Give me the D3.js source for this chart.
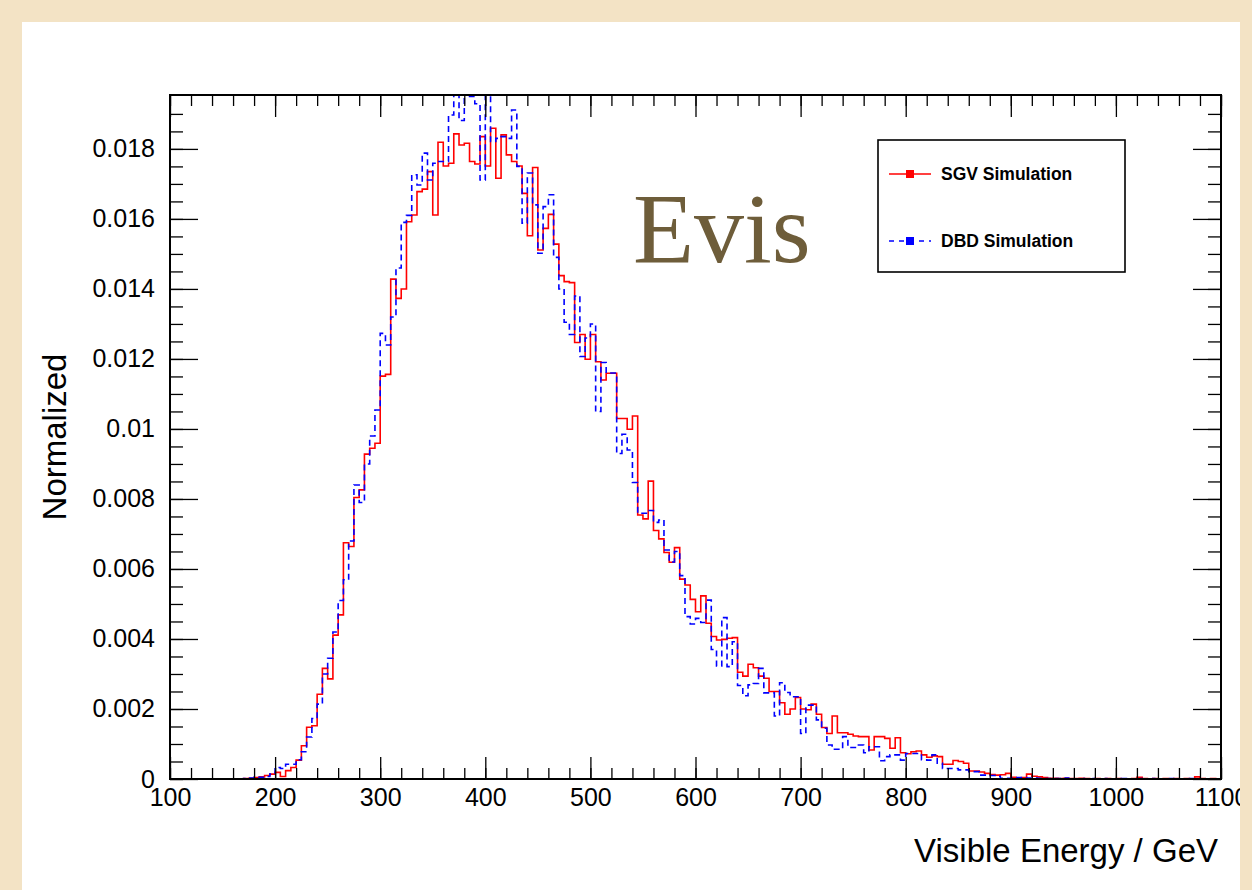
<!DOCTYPE html>
<html>
<head>
<meta charset="utf-8">
<script src="https://cdn.jsdelivr.net/npm/d3@7"></script>
<style>
  html, body { margin: 0; padding: 0; background: #f3e3c5; }
  svg { display: block; }
</style>
</head>
<body>
<svg id="chart" width="1252" height="890"></svg>
<script>
// Histogram binning: 200 bins of 5 GeV from 100 to 1100 GeV
const binStart = d3.range(100, 1100, 5);
const binWidth = 5;

// SGV Simulation, normalized bin contents
const sgv = [
  0,0,0,0,0,0,0,0,0,0,
  0,0,0,0,0.00001,0.00002,0.00004,0.00006,0.00010,0.00014,
  0.00019,0.00007,0.00024,0.00033,0.00054,0.00095,0.00148,0.00152,0.00242,0.00316,
  0.00286,0.00411,0.00469,0.00675,0.00664,0.00804,0.00826,0.00928,0.00945,0.00959,
  0.01151,0.01156,0.01428,0.01373,0.01400,0.01592,0.01611,0.01678,0.01685,0.01735,
  0.01611,0.01819,0.01751,0.01759,0.01843,0.01811,0.01816,0.01764,0.01757,0.01835,
  0.01751,0.01859,0.01716,0.01840,0.01783,0.01764,0.01751,0.01673,0.01552,0.01747,
  0.01511,0.01573,0.01613,0.01528,0.01438,0.01421,0.01418,0.01247,0.01270,0.01199,
  0.01270,0.01192,0.01140,0.01159,0.01159,0.01030,0.01030,0.00999,0.01037,0.00754,
  0.00743,0.00851,0.00710,0.00686,0.00647,0.00619,0.00661,0.00571,0.00554,0.00513,
  0.00478,0.00523,0.00445,0.00407,0.00397,0.00399,0.00402,0.00404,0.00305,0.00294,
  0.00328,0.00318,0.00294,0.00288,0.00250,0.00250,0.00218,0.00185,0.00200,0.00233,
  0.00200,0.00198,0.00214,0.00185,0.00147,0.00130,0.00180,0.00132,0.00132,0.00128,
  0.00123,0.00121,0.00121,0.00083,0.00121,0.00121,0.00116,0.00088,0.00118,0.00075,
  0.00072,0.00078,0.00080,0.00069,0.00062,0.00066,0.00064,0.00042,0.00042,0.00053,
  0.00050,0.00045,0.00023,0.00023,0.00020,0.00016,0.00013,0.00011,0.00012,0.00016,
  0.00005,0.00003,0.00004,0.00014,0.00008,0.00006,0.00004,0.00002,0.00002,0.00001,
  0.00002,0.00001,0.00001,0.00002,0.00001,0,0.00001,0,0.00001,0,
  0.00001,0,0,0.00001,0.00005,0.00001,0,0.00001,0,0.00001,
  0,0.00001,0,0.00001,0,0.00006,0.00001,0,0.00001,0
];

// DBD Simulation, normalized bin contents
const dbd = [
  0,0,0,0,0,0,0,0,0,0,
  0,0,0,0,0.00001,0.00003,0.00005,0.00005,0.00007,0.00014,
  0.00033,0.00030,0.00042,0.00042,0.00055,0.00078,0.00120,0.00173,0.00214,0.00300,
  0.00345,0.00420,0.00510,0.00569,0.00680,0.00840,0.00790,0.00900,0.00980,0.01054,
  0.01273,0.01240,0.01320,0.01460,0.01590,0.01610,0.01726,0.01697,0.01788,0.01711,
  0.01759,0.01764,0.01764,0.01897,0.01990,0.01881,0.01990,0.01950,0.01929,0.01711,
  0.01980,0.01821,0.01830,0.01835,0.01830,0.01911,0.01750,0.01588,0.01731,0.01640,
  0.01502,0.01635,0.01669,0.01490,0.01400,0.01305,0.01270,0.01380,0.01207,0.01260,
  0.01300,0.01050,0.01190,0.01160,0.01160,0.00930,0.00985,0.00940,0.00847,0.00759,
  0.00759,0.00767,0.00733,0.00740,0.00654,0.00620,0.00650,0.00581,0.00464,0.00443,
  0.00459,0.00447,0.00511,0.00370,0.00323,0.00461,0.00321,0.00392,0.00267,0.00238,
  0.00269,0.00273,0.00316,0.00246,0.00246,0.00180,0.00275,0.00247,0.00235,0.00235,
  0.00130,0.00211,0.00211,0.00169,0.00145,0.00097,0.00085,0.00085,0.00121,0.00090,
  0.00090,0.00097,0.00075,0.00092,0.00092,0.00052,0.00064,0.00069,0.00069,0.00054,
  0.00073,0.00073,0.00073,0.00055,0.00054,0.00069,0.00045,0.00030,0.00030,0.00030,
  0.00026,0.00026,0.00021,0.00021,0.00011,0.00011,0.00010,0.00008,0.00002,0.00002,
  0.00002,0.00004,0.00004,0.00003,0.00003,0.00002,0.00001,0.00001,0.00001,0.00001,
  0.00003,0.00001,0,0.00001,0,0.00001,0,0,0.00001,0,
  0,0.00001,0,0,0.00001,0,0,0.00001,0,0,
  0.00001,0,0,0,0.00001,0,0,0,0,0
];

const seriesNames = ["SGV Simulation", "DBD Simulation"];
const seriesColors = ["#ff0000", "#0000ff"];

const xMajorTicks = [100, 200, 300, 400, 500, 600, 700, 800, 900, 1000, 1100];
const xTickLabels = ["100", "200", "300", "400", "500", "600", "700", "800", "900", "1000", "1100"];
const xMinorTicks = d3.range(100, 1101, 20);
const yMajorTicks = [0, 0.002, 0.004, 0.006, 0.008, 0.01, 0.012, 0.014, 0.016, 0.018];
const yTickLabels = ["0", "0.002", "0.004", "0.006", "0.008", "0.01", "0.012", "0.014", "0.016", "0.018"];
const yMinorTicks = d3.range(0, 0.0195, 0.0005);

const xDomain = [100, 1100];
const yDomain = [0, 0.01954];

const frame = { left: 170, right: 1221, top: 95, bottom: 779 };
const svg = d3.select("#chart");

// beige page and the white canvas panel
svg.append("rect").attr("width", 1252).attr("height", 890).attr("fill", "#f3e3c5");
const defs = svg.append("defs");
defs.append("clipPath").attr("id", "panelClip")
  .append("rect").attr("x", 22).attr("y", 22).attr("width", 1218).attr("height", 868);
defs.append("clipPath").attr("id", "frameClip")
  .append("rect").attr("x", frame.left).attr("y", frame.top)
  .attr("width", frame.right - frame.left).attr("height", frame.bottom - frame.top);

const panel = svg.append("g").attr("clip-path", "url(#panelClip)");
panel.append("rect").attr("x", 22).attr("y", 22).attr("width", 1218).attr("height", 868).attr("fill", "#ffffff");

const x = d3.scaleLinear().domain(xDomain).range([frame.left, frame.right]);
const y = d3.scaleLinear().domain(yDomain).range([frame.bottom, frame.top]);

// histograms
const stepLine = d3.line().x(d => x(d[0])).y(d => y(d[1]));
function stepPoints(values) {
  const pts = [];
  values.forEach((v, i) => {
    pts.push([binStart[i], v]);
    pts.push([binStart[i] + binWidth, v]);
  });
  return pts;
}
const plot = panel.append("g").attr("clip-path", "url(#frameClip)");
plot.append("path").attr("d", stepLine(stepPoints(sgv)))
  .attr("fill", "none").attr("stroke", seriesColors[0]).attr("stroke-width", 1.6);
plot.append("path").attr("d", stepLine(stepPoints(dbd)))
  .attr("fill", "none").attr("stroke", seriesColors[1]).attr("stroke-width", 1.6)
  .attr("stroke-dasharray", "6,4");

// axes with inward ticks on all four sides
const tickStyle = g => {
  g.select(".domain").remove();
  g.selectAll(".tick line").attr("stroke", "#000").attr("stroke-width", 1.3);
};
const labelFont = "'Liberation Sans', Arial, Helvetica, sans-serif";

panel.append("g").attr("transform", `translate(0,${frame.bottom})`)
  .call(d3.axisBottom(x).tickValues(xMinorTicks).tickSize(-11).tickFormat(""))
  .call(tickStyle);
const xAxis = panel.append("g").attr("transform", `translate(0,${frame.bottom})`)
  .call(d3.axisBottom(x).tickValues(xMajorTicks).tickSize(-22).tickPadding(9)
    .tickFormat((d, i) => xTickLabels[i]))
  .call(tickStyle);
xAxis.selectAll("text").attr("font-family", labelFont).attr("font-size", 25).attr("fill", "#000");

panel.append("g").attr("transform", `translate(0,${frame.top})`)
  .call(d3.axisTop(x).tickValues(xMinorTicks).tickSize(-11).tickFormat(""))
  .call(tickStyle);
panel.append("g").attr("transform", `translate(0,${frame.top})`)
  .call(d3.axisTop(x).tickValues(xMajorTicks).tickSize(-22).tickFormat(""))
  .call(tickStyle);

panel.append("g").attr("transform", `translate(${frame.left},0)`)
  .call(d3.axisLeft(y).tickValues(yMinorTicks).tickSize(-13).tickFormat(""))
  .call(tickStyle);
const yAxis = panel.append("g").attr("transform", `translate(${frame.left},0)`)
  .call(d3.axisLeft(y).tickValues(yMajorTicks).tickSize(-28).tickPadding(15)
    .tickFormat((d, i) => yTickLabels[i]))
  .call(tickStyle);
yAxis.selectAll("text").attr("font-family", labelFont).attr("font-size", 25).attr("fill", "#000");

panel.append("g").attr("transform", `translate(${frame.right},0)`)
  .call(d3.axisRight(y).tickValues(yMinorTicks).tickSize(-13).tickFormat(""))
  .call(tickStyle);
panel.append("g").attr("transform", `translate(${frame.right},0)`)
  .call(d3.axisRight(y).tickValues(yMajorTicks).tickSize(-28).tickFormat(""))
  .call(tickStyle);

// frame
panel.append("rect")
  .attr("x", frame.left).attr("y", frame.top)
  .attr("width", frame.right - frame.left).attr("height", frame.bottom - frame.top)
  .attr("fill", "none").attr("stroke", "#000").attr("stroke-width", 2);

// axis titles
panel.append("text").attr("x", 1218).attr("y", 862).attr("text-anchor", "end")
  .attr("font-family", labelFont).attr("font-size", 33).attr("fill", "#000")
  .text("Visible Energy / GeV");
panel.append("text").attr("transform", `translate(66,${(frame.top + frame.bottom) / 2}) rotate(-90)`)
  .attr("text-anchor", "middle")
  .attr("font-family", labelFont).attr("font-size", 33).attr("fill", "#000")
  .text("Normalized");

// legend
const legend = panel.append("g");
legend.append("rect").attr("x", 878).attr("y", 140).attr("width", 247).attr("height", 132)
  .attr("fill", "#fff").attr("stroke", "#000").attr("stroke-width", 1.6);
const legendRows = [174, 241];
seriesNames.forEach((name, i) => {
  const ly = legendRows[i];
  const row = legend.append("g");
  row.append("line").attr("x1", 889).attr("x2", 931).attr("y1", ly).attr("y2", ly)
    .attr("stroke", seriesColors[i]).attr("stroke-width", 1.6)
    .attr("stroke-dasharray", i === 1 ? "5,5" : null);
  row.append("rect").attr("x", 906).attr("y", ly - 4).attr("width", 8).attr("height", 8)
    .attr("fill", seriesColors[i]);
  row.append("text").attr("x", 941).attr("y", ly + 6)
    .attr("font-family", labelFont).attr("font-weight", "bold").attr("font-size", 17.5)
    .attr("fill", "#000").text(name);
});

// observable label
panel.append("text").attr("x", 633).attr("y", 262)
  .attr("font-family", "'Liberation Serif', 'Times New Roman', serif")
  .attr("font-size", 100).attr("fill", "#6e5d3a").text("Evis");
</script>
</body>
</html>
